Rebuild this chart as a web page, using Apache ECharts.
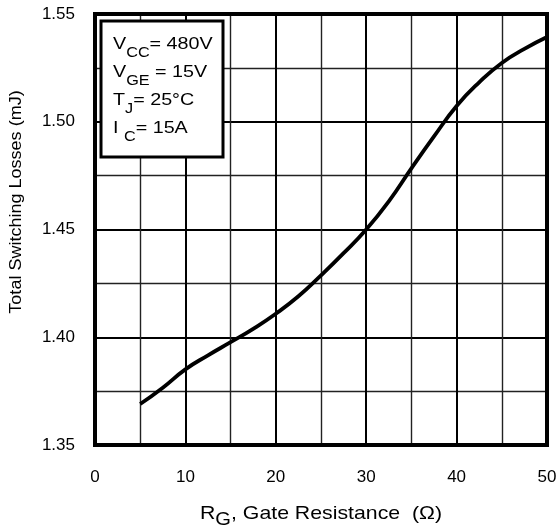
<!DOCTYPE html>
<html><head><meta charset="utf-8">
<script src="https://cdn.jsdelivr.net/npm/echarts@6/dist/echarts.min.js"></script>
<style>html,body{margin:0;padding:0;background:#fff}#c{width:560px;height:531px}</style>
</head><body><div id="c"></div>
<script>
var rg = [5, 7.5, 10, 12.5, 15, 17.5, 20, 22.5, 25, 27.5, 30, 32.5, 35, 37.5, 40, 42.5, 45, 47.5, 50];
var losses = [1.369, 1.3766, 1.3851, 1.3916, 1.3977, 1.4039, 1.4109, 1.419, 1.4287, 1.439, 1.450, 1.4631, 1.4784, 1.4932, 1.5073, 1.5183, 1.5273, 1.5338, 1.5393];
var legendLines = ['V{s|CC}= 480V', 'V{s|GE} = 15V', 'T{s|J}= 25°C', 'I {s|C}= 15A'];
var xTitle = 'R{s|G}, Gate Resistance  (Ω)';
var yTitle = 'Total Switching Losses (mJ)';

var FONT = '"Liberation Sans", Arial, sans-serif';
var chart = echarts.init(document.getElementById('c'), null, {renderer: 'canvas'});
var gfx = [{
  type: 'rect', shape: {x: 101, y: 21, width: 122, height: 136},
  style: {fill: '#fff', stroke: '#000', lineWidth: 3}, z: 100
}];
var ys = [44, 72, 100, 128];
legendLines.forEach(function (t, i) {
  gfx.push({
    type: 'text', x: 113, y: ys[i], z: 101, scaleX: 1.16,
    style: {
      text: t, fill: '#000', fontSize: 17, fontFamily: FONT, verticalAlign: 'middle', align: 'left',
      rich: {s: {fontSize: 14, fontFamily: FONT, padding: [18, 0, 0, 0]}}
    }
  });
});
gfx.push({
  type: 'text', x: 321, y: 514, z: 101, scaleX: 1.12,
  style: {
    text: xTitle, fill: '#000', fontSize: 19, fontFamily: FONT, verticalAlign: 'middle', align: 'center',
    rich: {s: {fontSize: 18, fontFamily: FONT, padding: [12, 0, 0, 0]}}
  }
});
gfx.push({
  type: 'text', x: 16, y: 202, z: 101, rotation: Math.PI / 2, scaleX: 1.06,
  style: {text: yTitle, fill: '#000', fontSize: 17, fontFamily: FONT, verticalAlign: 'middle', align: 'center'}
});
chart.setOption({
  animation: false,
  grid: {left: 95, right: 13, top: 14, bottom: 86, show: true, borderColor: '#000', borderWidth: 4, backgroundColor: 'transparent', z: 5},
  xAxis: {
    type: 'value', min: 0, max: 50, interval: 10,
    axisLine: {show: false}, axisTick: {show: false},
    axisLabel: {color: '#000', fontSize: 17, fontFamily: FONT, margin: 24},
    splitLine: {show: true, lineStyle: {color: '#000', width: 2}},
    minorTick: {show: false, splitNumber: 2},
    minorSplitLine: {show: true, lineStyle: {color: '#222', width: 1.4}}
  },
  yAxis: {
    type: 'value', min: 1.35, max: 1.55, interval: 0.05,
    axisLine: {show: false}, axisTick: {show: false},
    axisLabel: {color: '#000', fontSize: 17, fontFamily: FONT, margin: 20, padding: [6, 0, 0, 0],
      formatter: function (v) { return v.toFixed(2); }},
    splitLine: {show: true, lineStyle: {color: '#000', width: 2}},
    minorTick: {show: false, splitNumber: 2},
    minorSplitLine: {show: true, lineStyle: {color: '#222', width: 1.4}}
  },
  series: [{
    type: 'line', data: rg.map(function (x, i) { return [x, losses[i]]; }),
    smooth: 0.5, showSymbol: false, symbol: 'none', clip: false,
    lineStyle: {color: '#000', width: 3.8}, z: 10
  }],
  graphic: gfx
});
</script></body></html>
